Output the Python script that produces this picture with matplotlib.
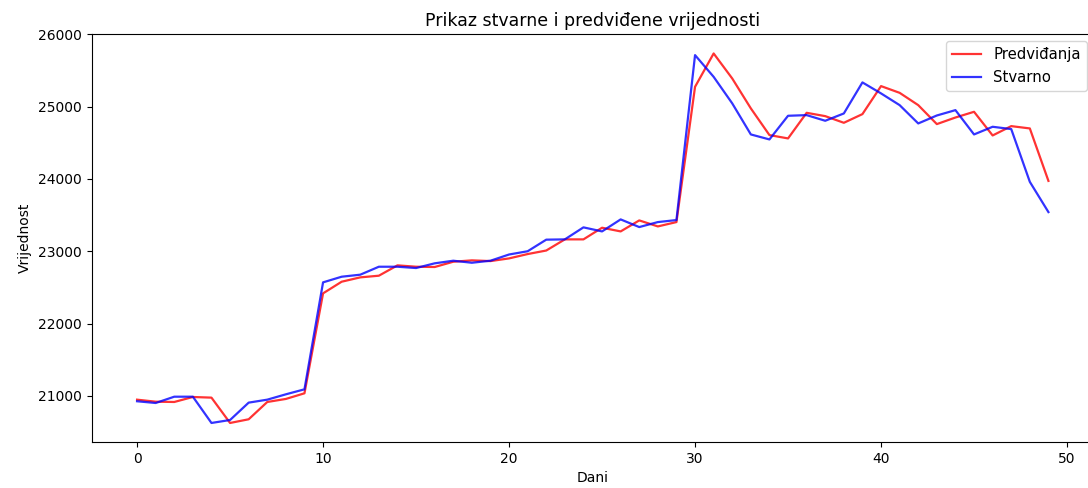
import numpy as np
import matplotlib
matplotlib.use('Agg')
import matplotlib.pyplot as plt

# dani 0..49
dani = list(range(50))

# stvarne vrijednosti
stvarno = [20927, 20903, 20990, 20990, 20627, 20668, 20908, 20949, 21023, 21092,
           22570, 22648, 22676, 22786, 22786, 22768, 22833, 22869, 22841, 22869,
           22955, 23000, 23160, 23164, 23330, 23274, 23440, 23334, 23403, 23431,
           25710, 25410, 25043, 24614, 24545, 24872, 24881, 24803, 24904, 25333,
           25181, 25019, 24766, 24876, 24950, 24614, 24720, 24688, 23959, 23541]

# predvidjene vrijednosti
predvidjanja = [20949, 20921, 20917, 20986, 20977, 20627, 20678, 20917, 20959, 21037,
                22418, 22579, 22639, 22662, 22805, 22786, 22782, 22855, 22874, 22864,
                22901, 22961, 23010, 23164, 23164, 23325, 23274, 23426, 23343, 23403,
                25272, 25733, 25387, 24974, 24605, 24559, 24913, 24867, 24775, 24895,
                25282, 25189, 25019, 24757, 24848, 24927, 24600, 24729, 24697, 23972]

fig = plt.figure(figsize=(10.88, 4.88), dpi=100)
ax = fig.add_axes([91.5 / 1088, 1 - 442 / 488, (1094 - 91.5) / 1088, (442 - 34) / 488])

ax.plot(dani, predvidjanja, color='red', alpha=0.8, linewidth=1.6, label='Predviđanja')
ax.plot(dani, stvarno, color='blue', alpha=0.8, linewidth=1.6, label='Stvarno')

ax.set_xlim(-2.45, 51.45)
ax.set_ylim(20364, 26002)

ax.set_title('Prikaz stvarne i predviđene vrijednosti', fontsize=12.5)
ax.set_xlabel('Dani')
ax.set_ylabel('Vrijednost')
ax.legend(loc='upper right', fontsize=10.7)

fig.savefig('out.png', dpi=100)
